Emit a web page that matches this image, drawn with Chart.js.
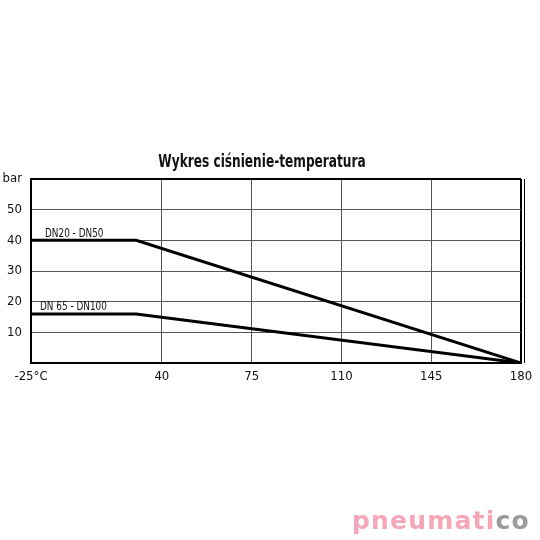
<!DOCTYPE html>
<html>
<head>
<meta charset="utf-8">
<script src="https://cdn.jsdelivr.net/npm/chart.js@4"></script>
<style>
  html, body { margin: 0; padding: 0; background: #fff; }
  #wrap { position: relative; width: 540px; height: 540px; }
  #logo { position: absolute; left: 352px; top: 506px; font: bold 25px 'DejaVu Sans', sans-serif; letter-spacing: 1.2px; }
  #logo .p { color: #f5a7b8; }
  #logo .g { color: #9a9a9a; }
</style>
</head>
<body>
<div id="wrap">
  <canvas id="ptChart" width="540" height="540"></canvas>
  <div id="logo"><span class="p">pneumati</span><span class="g">co</span></div>
</div>
<script>
// ---- wykres ciśnienie-temperatura ----
const FONT = "'Liberation Sans Narrow', 'DejaVu Sans Condensed', sans-serif";

// first segment (-25 -> 40) is drawn shorter than its real span, so -25 sits at -11 on the axis
const tempTicks = [-11, 40, 75, 110, 145, 180];
const tempLabels = ["-25°C", "40", "75", "110", "145", "180"];

const chartTitle = "Wykres ciśnienie-temperatura";
const seriesNames = ["DN20 - DN50", "DN 65 - DN100"];
const dn20Temp = [-11, 30, 180];
const dn20Bar = [40, 40, 0];
const dn65Temp = [-11, 30, 180];
const dn65Bar = [16, 16, 0];

function toPoints(xs, ys) {
    return xs.map((x, i) => ({ x: x, y: ys[i] }));
}

// condensed text: squeeze horizontally, the original uses a narrow face
function narrowText(ctx, text, x, y, sx, align) {
    ctx.save();
    ctx.translate(x, y);
    ctx.scale(sx, 1);
    ctx.textAlign = align || "left";
    ctx.fillText(text, 0, 0);
    ctx.restore();
}

const extras = {
    id: "extras",
    afterDatasetsDraw(chart) {
        const ctx = chart.ctx;
        const xs = chart.scales.x, ys = chart.scales.y;
        const a = chart.chartArea;
        ctx.save();
        ctx.fillStyle = "#111";
        ctx.textBaseline = "alphabetic";

        ctx.font = "bold 18px " + FONT;
        narrowText(ctx, chartTitle, 262, a.top - 12, 0.75, "center");

        ctx.font = "13px " + FONT;
        narrowText(ctx, seriesNames[0], xs.getPixelForValue(dn20Temp[0]) + 14, ys.getPixelForValue(dn20Bar[0]) - 3, 0.76);
        narrowText(ctx, seriesNames[1], xs.getPixelForValue(dn65Temp[0]) + 9, ys.getPixelForValue(dn65Bar[0]) - 4, 0.76);

        // double line on the right edge
        ctx.strokeStyle = "#000";
        ctx.lineWidth = 1;
        ctx.beginPath();
        ctx.moveTo(a.right + 3.5, a.top);
        ctx.lineTo(a.right + 3.5, a.bottom);
        ctx.stroke();
        ctx.restore();
    }
};

new Chart(document.getElementById("ptChart").getContext("2d"), {
    type: "line",
    data: {
        datasets: [
            { label: seriesNames[0], data: toPoints(dn20Temp, dn20Bar), borderColor: "#000", borderWidth: 3, pointRadius: 0, tension: 0 },
            { label: seriesNames[1], data: toPoints(dn65Temp, dn65Bar), borderColor: "#000", borderWidth: 3, pointRadius: 0, tension: 0 }
        ]
    },
    options: {
        responsive: false,
        animation: false,
        layout: { padding: { top: 179, right: 19, bottom: 147, left: 0 } },
        plugins: {
            legend: { display: false },
            tooltip: { enabled: false },
            title: { display: false }
        },
        scales: {
            x: {
                type: "linear",
                min: tempTicks[0],
                max: 180,
                afterBuildTicks: s => { s.ticks = tempTicks.map(v => ({ value: v })); },
                afterFit: s => { s.height = 30; },
                ticks: {
                    color: "#111",
                    font: { family: FONT, size: 13 },
                    padding: 6,
                    maxRotation: 0,
                    callback: v => tempLabels[tempTicks.indexOf(v)]
                },
                grid: {
                    color: c => (c.tick && c.tick.value === 180) ? "#000" : "#555",
                    lineWidth: c => (c.tick && c.tick.value === 180) ? 2 : 1,
                    drawTicks: false
                },
                border: { color: "#000", width: 2 }
            },
            y: {
                min: 0,
                max: 60,
                afterFit: s => { s.width = 31; },
                ticks: {
                    stepSize: 10,
                    color: "#111",
                    font: { family: FONT, size: 13 },
                    padding: 9,
                    callback: v => v === 0 ? "" : (v === 60 ? "bar" : v)
                },
                grid: {
                    color: c => (c.tick && c.tick.value === 60) ? "#000" : "#555",
                    lineWidth: c => (c.tick && c.tick.value === 60) ? 2 : 1,
                    drawTicks: false
                },
                border: { color: "#000", width: 2 }
            }
        }
    },
    plugins: [extras]
});
</script>
</body>
</html>
